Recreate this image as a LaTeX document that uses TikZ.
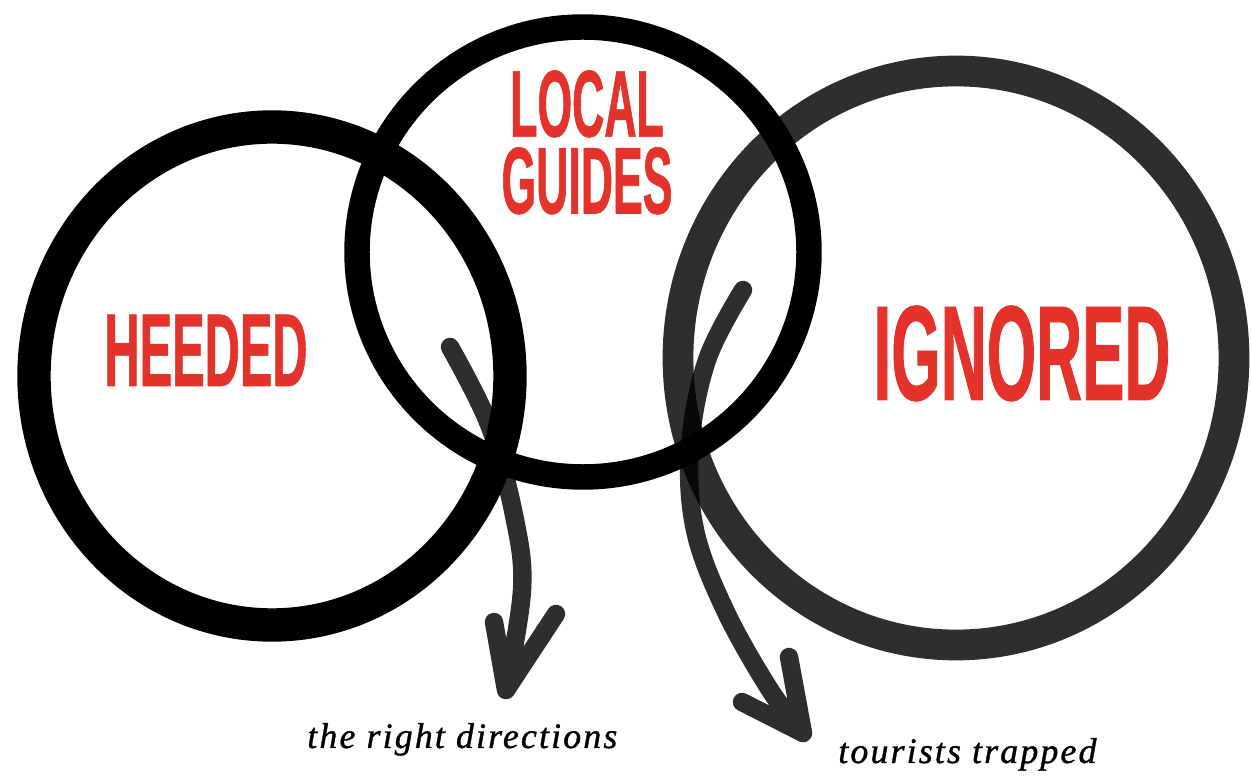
\documentclass[tikz,border=0pt]{standalone}
\usepackage{fontspec}
\usepackage{xcolor}
\usepackage{tikz}
\usetikzlibrary{positioning, calc, arrows.meta}

\newfontfamily\signfont[FakeStretch=0.47,BoldFeatures={FakeBold=0.6}]{Liberation Sans}
\newfontfamily\notefont[LetterSpace=6,ItalicFeatures={FakeBold=1}]{Liberation Serif}
\definecolor{guidered}{HTML}{E4332A}

\tikzset{
    ring/.style={draw=black, line width=#1},
    grayring/.style={ring=#1, draw opacity=0.82},
    brush/.style={draw=black, draw opacity=0.82, line width=10.5pt, line cap=round, line join=round},
    sign/.style={text=guidered, inner sep=0pt, align=center},
    note/.style={inner sep=0pt, font=\notefont\itshape\fontsize{20.4}{24}\selectfont}
}

\begin{document}
\begin{tikzpicture}[x=0.02cm, y=-0.02cm]

    \useasboundingbox (0,0) rectangle (1252,783);

    % --- Right ring (lighter ink) ---
    \draw[grayring=17.5pt] (956,358) ellipse [x radius=278, y radius=287];

    % --- Arrow out of the left overlap ---
    \coordinate (hs) at (450,347);
    \coordinate (ht) at (506,690);
    \coordinate (hl) at (494,622);
    \coordinate (hr) at (556,614);
    \draw[brush] plot[smooth, tension=0.6] coordinates {(hs) (490,427) (515,520) (522,590) (ht)}
        (hl) -- (ht) -- (hr);

    % --- Arrow out of the right overlap ---
    \coordinate (is) at (743,290);
    \coordinate (it) at (803,733);
    \coordinate (il) at (742,702);
    \coordinate (ir) at (789,657);
    \draw[brush] plot[smooth, tension=0.6] coordinates {(is) (707,360) (690,447) (695,530) (725,610) (770,690) (it)}
        (il) -- (it) -- (ir);

    % --- Left ring ---
    \draw[ring=19pt] (272,376) ellipse [x radius=238, y radius=249];

    % --- Middle ring ---
    \draw[ring=14.5pt] (583,252) ellipse [x radius=226, y radius=225];

    % --- Red titles ---
    \node[sign, anchor=north, font=\signfont\bfseries\fontsize{54}{54}\selectfont] (local) at (587,70) {LOCAL};
    \node[sign, below=9*0.02cm of local, font=\signfont\bfseries\fontsize{54}{54}\selectfont] (guides) {GUIDES};
    \node[sign, anchor=base, font=\signfont\bfseries\fontsize{59}{59}\selectfont] (heeded) at (206,386) {HEEDED};
    \node[sign, anchor=base, font=\signfont\bfseries\fontsize{77}{77}\selectfont] (ignored) at (1022,400) {IGNORED};

    % --- Notes under the arrows ---
    \node[note, anchor=base west] (rightdir) at (307,748) {the right directions};
    \node[note, anchor=base west] (trapped) at (838,763) {tourists trapped};

\end{tikzpicture}
\end{document}
